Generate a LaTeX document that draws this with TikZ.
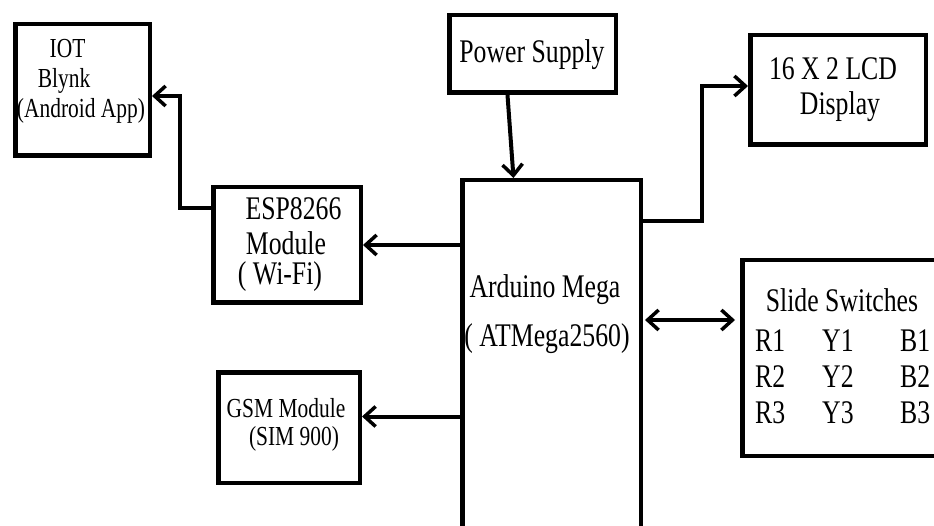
\documentclass[tikz,border=0pt]{standalone}
\usepackage{fontspec}
\setmainfont{Liberation Serif}[FakeStretch=0.78]
\usetikzlibrary{arrows.meta}
\begin{document}
\begin{tikzpicture}[x=1pt,y=-1pt,
  box/.style={draw=black,line width=4.5pt,rectangle,inner sep=0pt},
  arr/.style={line width=4pt,-{Straight Barb[length=11pt,width=20pt,line width=3.5pt]}},
  darr/.style={line width=4pt,{Straight Barb[length=11pt,width=20pt,line width=3.5pt]}-{Straight Barb[length=11pt,width=20pt,line width=3.5pt]}},
  lbl/.style={anchor=base,inner sep=0pt,font=\fontsize{33}{36}\selectfont},
  sml/.style={anchor=base,inner sep=0pt,font=\fontsize{27.5}{30}\selectfont},
  row/.style={anchor=base west,inner sep=0pt,font=\fontsize{33}{36}\selectfont},
]
\useasboundingbox (0,0) rectangle (934,526);
\fill[white] (0,0) rectangle (934,526);
\clip (0,0) rectangle (934,526);

% boxes
\node[box,minimum width=134.5pt,minimum height=131.5pt] (iot) at (82.5,90) {};
\node[box,minimum width=147.5pt,minimum height=115.5pt] (esp) at (287,245) {};
\node[box,minimum width=141.5pt,minimum height=110.5pt] (gsm) at (289,427.5) {};
\node[box,minimum width=178.5pt,minimum height=397.5pt] (ard) at (551.5,379) {};
\node[box,minimum width=166.5pt,minimum height=77.5pt] (pwr) at (532.5,54) {};
\node[box,minimum width=175.5pt,minimum height=109.5pt] (lcd) at (838,90) {};
\node[box,minimum width=235.5pt,minimum height=195.5pt] (sw) at (860,358) {};

% texts
\node[sml] (t1) at (67.5,58) {IOT};
\node[sml] (t2) at (64,88) {Blynk};
\node[sml] (t3) at (81,118) {(Android App)};
\node[lbl] (t4) at (532,63) {Power Supply};
\node[lbl] (t5) at (833,80) {16 X 2 LCD};
\node[lbl] (t6) at (840,115) {Display};
\node[lbl] (t7) at (293.5,220) {ESP8266};
\node[lbl] (t8) at (286,255) {Module};
\node[lbl] (t9) at (280,285) {( Wi-Fi)};
\node[sml] (t10) at (286,417) {GSM Module};
\node[sml] (t11) at (294,445) {(SIM 900)};
\node[lbl] (t12) at (545,298) {Arduino Mega};
\node[lbl] (t13) at (547,347) {( ATMega2560)};
\node[lbl] (t14) at (842,312) {Slide Switches};
\node[row] (r1) at (755,352) {R1};
\node[row] (y1) at (822,352) {Y1};
\node[row] (b1) at (900,352) {B1};
\node[row] (r2) at (755,387) {R2};
\node[row] (y2) at (822,387) {Y2};
\node[row] (b2) at (900,387) {B2};
\node[row] (r3) at (755,423) {R3};
\node[row] (y3) at (822,423) {Y3};
\node[row] (b3) at (900,423) {B3};

% connectors
\draw[arr] ([yshift=37pt]esp.west) -- ++(-31,0) |- ([yshift=-6pt]iot.east);
\draw[arr] (ard.west |- esp.east) -- (esp.east);
\coordinate (g) at ([yshift=11pt]gsm.east);
\draw[arr] (ard.west |- g) -- (g);
\draw[arr] ([xshift=-25pt]pwr.south) -- ([xshift=-38pt]ard.north);
\draw[arr] ([yshift=-43pt]ard.north east) -- ++(59,0) |- ([yshift=4pt]lcd.west);
\coordinate (s) at ([yshift=38pt]sw.west);
\draw[darr,shorten <=2pt,shorten >=5pt] (ard.east |- s) -- (s);
\end{tikzpicture}
\end{document}
